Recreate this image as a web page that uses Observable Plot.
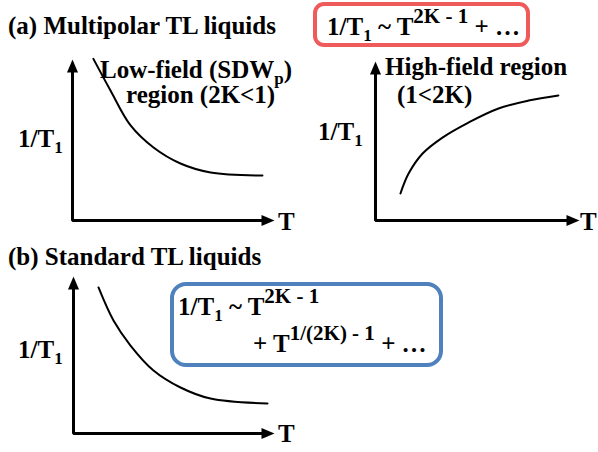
<!DOCTYPE html>
<html><head><meta charset="utf-8">
<script src="https://cdn.jsdelivr.net/npm/d3@7"></script>
<script src="https://cdn.jsdelivr.net/npm/@observablehq/plot@0.6"></script>
<style>
body{margin:0;background:#fff;}
#root{position:relative;width:598px;height:452px;overflow:hidden;}
#root svg{position:absolute;}
#root text{font-family:"Liberation Serif","Times New Roman",serif;font-weight:bold;white-space:pre;}
</style></head>
<body><div id="root"></div>
<script>
// Schematic curves (T and 1/T1 in arbitrary units, 0..1 along each axis arrow)
const lowFieldT    = [0.104, 0.189, 0.289, 0.403, 0.537, 0.687, 0.945];
const lowFieldRate = [1.01, 0.8125, 0.594, 0.456, 0.356, 0.300, 0.281];
const highFieldT    = [0.123, 0.163, 0.232, 0.330, 0.458, 0.606, 0.754, 0.901];
const highFieldRate = [0.171, 0.297, 0.424, 0.525, 0.620, 0.709, 0.759, 0.791];
const standardT    = [0.125, 0.200, 0.285, 0.400, 0.535, 0.685, 0.970];
const standardRate = [0.936, 0.724, 0.564, 0.404, 0.295, 0.224, 0.192];

const axisFrame = [{t:0, r:0.95}, {t:0, r:0}, {t:0.95, r:0}];
const yTip = [{t:0, r:1}];
const xTip = [{t:1, r:0}];

const triUp = {draw(c){ c.moveTo(0,-1); c.lineTo(-5.5,12); c.lineTo(5.5,12); c.closePath(); }};
const triRight = {draw(c){ c.moveTo(1,0); c.lineTo(-12,-5.5); c.lineTo(-12,5.5); c.closePath(); }};

const root = document.getElementById("root");

function panel(T, R, ox, oy, tx, ty){
  const m = 14;
  const data = T.map((t,i)=>({t, r:R[i]}));
  const svg = Plot.plot({
    width: tx-ox+2*m, height: oy-ty+2*m,
    marginLeft:m, marginRight:m, marginTop:m, marginBottom:m,
    x:{domain:[0,1], axis:null}, y:{domain:[0,1], axis:null},
    style:{background:"transparent", overflow:"visible"},
    marks:[
      Plot.line(axisFrame, {x:"t", y:"r", stroke:"#000", strokeWidth:3, strokeLinejoin:"miter"}),
      Plot.dot(yTip, {x:"t", y:"r", symbol:triUp, r:5, fill:"#000", stroke:"none"}),
      Plot.dot(xTip, {x:"t", y:"r", symbol:triRight, r:5, fill:"#000", stroke:"none"}),
      Plot.line(data, {x:"t", y:"r", curve:"catmull-rom", stroke:"#000", strokeWidth:2})
    ]
  });
  svg.style.left = (ox-m)+"px";
  svg.style.top = (ty-m)+"px";
  root.appendChild(svg);
}

panel(lowFieldT, lowFieldRate, 72, 220, 273, 60);
panel(highFieldT, highFieldRate, 375, 220, 578, 62);
panel(standardT, standardRate, 73, 433, 273, 277);

// Annotation layer
const ov = d3.select(root).append("svg")
  .attr("width",598).attr("height",452)
  .style("left","0px").style("top","0px");

ov.append("rect").attr("x",315).attr("y",4).attr("width",213).attr("height",41)
  .attr("rx",9).attr("fill","none").attr("stroke","#ef5a5a").attr("stroke-width",4);
ov.append("rect").attr("x",172).attr("y",284).attr("width",269).attr("height",81)
  .attr("rx",14).attr("fill","none").attr("stroke","#4f81bd").attr("stroke-width",4);

const MAIN = 25, SUB = 17, SUP = 21;
function label(x, y, segs, size=MAIN){
  const t = ov.append("text").attr("x",x).attr("y",y).attr("font-size",size).attr("fill","#000");
  let cur = 0;
  for (const s of segs){
    const shift = s.sub ? 6 : s.sup ? -12 : 0;
    t.append("tspan").attr("dy", shift-cur)
      .attr("font-size", s.sub ? SUB : s.sup ? SUP : size).text(s.s);
    cur = shift;
  }
}
const rateLabel = [{s:"1/T"},{s:"1",sub:true}];

label(8, 34, [{s:"(a) Multipolar TL liquids"}]);
label(100, 78, [{s:"Low-field (SDW"},{s:"p",sub:true},{s:")"}]);
label(126, 103, [{s:"region (2K<1)"}]);
label(18, 147, rateLabel);
label(278, 230, [{s:"T"}]);

label(327, 35, [{s:"1/T"},{s:"1",sub:true},{s:" ~ T"},{s:"2K - 1",sup:true},{s:" + \u2026"}]);
label(385, 75, [{s:"High-field region"}]);
label(397, 103, [{s:"(1<2K)"}]);
label(318, 140, rateLabel);
label(580, 230, [{s:"T"}]);

label(8, 265, [{s:"(b) Standard TL liquids"}]);
label(18, 358, rateLabel);
label(278, 442, [{s:"T"}]);
label(178, 315, [{s:"1/T"},{s:"1",sub:true},{s:" ~ T"},{s:"2K - 1",sup:true}]);
label(253, 352, [{s:"+ T"},{s:"1/(2K) - 1",sup:true},{s:" + \u2026"}]);
</script>
</body></html>
